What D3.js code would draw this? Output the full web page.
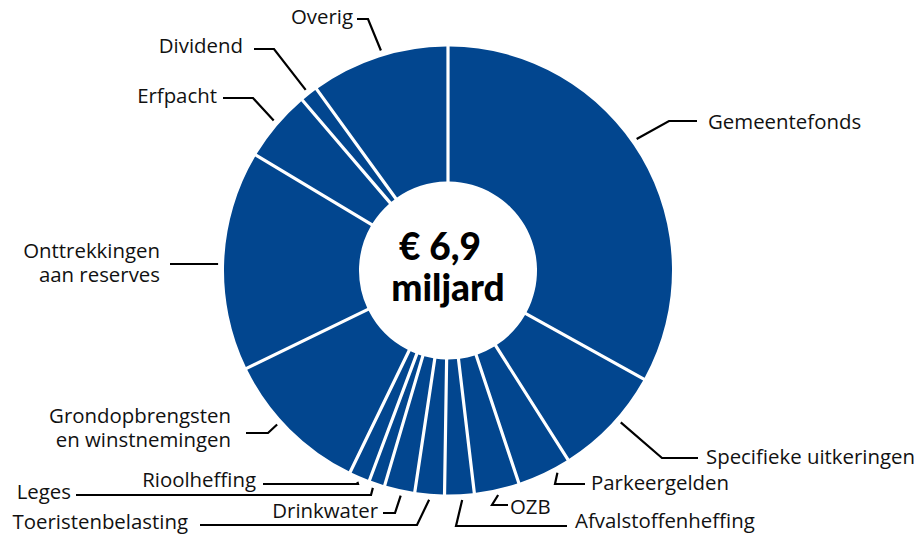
<!DOCTYPE html>
<html lang="nl">
<head>
<meta charset="UTF-8">
<title>Inkomsten</title>
<script src="https://cdn.jsdelivr.net/npm/d3@7"></script>
<style>
    body{
        margin: 0;
        background: #ffffff;
    }
    .label{
        font-family: "Open Sans", "Noto Sans", sans-serif;
        font-size: 20.4px;
        fill: #111111;
    }
    .total{
        font-family: Lato, "Noto Sans", sans-serif;
        font-weight: 900;
        font-size: 37px;
        fill: #000000;
    }
    .leader{
        fill: none;
        stroke: #000000;
        stroke-width: 2.2px;
    }
</style>
</head>
<body>
<svg id="chart" width="922" height="534"></svg>

<script>
    // income 2024, mln euro
    let categories = ["Gemeentefonds", "Specifieke uitkeringen", "Parkeergelden", "OZB",
        "Afvalstoffenheffing", "Toeristenbelasting", "Drinkwater", "Leges", "Rioolheffing",
        "Grondopbrengsten en winstnemingen", "Onttrekkingen aan reserves", "Erfpacht",
        "Dividend", "Overig"]
    let values = [2340, 550, 260, 215, 135, 135, 140, 65, 90, 740, 1110, 350, 75, 695]
    let totalText = ["€ 6,9", "miljard"]

    // where each label sits (da = shift of the leader start in degrees)
    let labelLayout = {
        "Gemeentefonds": {da: -4.4, kx: 669, ky: 121, ex: 697, tx: 708, ty: 122, anchor: "start", lines: ["Gemeentefonds"]},
        "Specifieke uitkeringen": {da: -2, kx: 662, ky: 458, ex: 698, tx: 706, ty: 457, anchor: "start", lines: ["Specifieke uitkeringen"]},
        "Parkeergelden": {da: -3, kx: 555, ky: 484, ex: 585, tx: 591, ty: 483, anchor: "start", lines: ["Parkeergelden"]},
        "OZB": {da: 0, kx: 492, ky: 505, ex: 508, tx: 510, ty: 507, anchor: "start", lines: ["OZB"]},
        "Afvalstoffenheffing": {da: -0.6, kx: 456, ky: 526, ex: 567, tx: 575, ty: 521, anchor: "start", lines: ["Afvalstoffenheffing"]},
        "Toeristenbelasting": {da: 0, kx: 417, ky: 525, ex: 200, tx: 188, ty: 522, anchor: "end", lines: ["Toeristenbelasting"]},
        "Drinkwater": {da: -0.6, kx: 395, ky: 513, ex: 383, tx: 378, ty: 511, anchor: "end", lines: ["Drinkwater"]},
        "Leges": {da: 0.6, kx: 371, ky: 495, ex: 76, tx: 71, ty: 492, anchor: "end", lines: ["Leges"]},
        "Rioolheffing": {da: 0, kx: 358, ky: 484, ex: 263, tx: 256, ty: 480, anchor: "end", lines: ["Rioolheffing"]},
        "Grondopbrengsten en winstnemingen": {da: 3, kx: 268, ky: 433, ex: 246, tx: 231, ty: 428, anchor: "end", lines: ["Grondopbrengsten", "en winstnemingen"]},
        "Onttrekkingen aan reserves": {da: -0.9, kx: null, ky: null, ex: 170, tx: 160, ty: 263, anchor: "end", lines: ["Onttrekkingen", "aan reserves"]},
        "Erfpacht": {da: 0.5, kx: 253, ky: 98, ex: 223, tx: 217, ty: 96, anchor: "end", lines: ["Erfpacht"]},
        "Dividend": {da: 0, kx: 274, ky: 49, ex: 254, tx: 243, ty: 46, anchor: "end", lines: ["Dividend"]},
        "Overig": {da: 1, kx: 368, ky: 19, ex: 357, tx: 353, ty: 17, anchor: "end", lines: ["Overig"]}
    }

    let cx = 448
    let cy = 270.5
    let outerR = 224
    let innerR = 89
    let lineH = 23.5

    let data = categories.map(function (c, i) {
        return {name: c, value: values[i]}
    })

    let svg = d3.select("#chart")
    let g = svg.append("g")
        .attr("transform", "translate(" + cx + "," + cy + ")")

    let pie = d3.pie()
        .sort(null)
        .value(function (d) { return d.value })
        .padAngle(3.2 / outerR)

    let arc = d3.arc()
        .innerRadius(innerR)
        .outerRadius(outerR)
        .padRadius(outerR)

    let arcs = pie(data)

    g.selectAll("path.slice")
        .data(arcs)
        .enter()
        .append("path")
        .attr("class", "slice")
        .attr("d", arc)
        .attr("fill", "#02468f")

    // leader lines
    arcs.forEach(function (a) {
        let lay = labelLayout[a.data.name]
        let ang = (a.startAngle + a.endAngle) / 2 + lay.da * Math.PI / 180
        let p = d3.pointRadial(ang, outerR + 6)
        let start = [p[0] + cx, p[1] + cy]
        let knee = lay.kx === null ? [start[0], start[1]] : [lay.kx, lay.ky]
        let pts = [start, knee, [lay.ex, knee[1]]]

        svg.append("path")
            .attr("class", "leader")
            .attr("d", d3.line()(pts))

        let t = svg.append("text")
            .attr("class", "label")
            .attr("text-anchor", lay.anchor)
        let n = lay.lines.length
        lay.lines.forEach(function (s, i) {
            t.append("tspan")
                .attr("x", lay.tx)
                .attr("y", lay.ty + (i - (n - 1) / 2) * lineH)
                .attr("dy", "0.35em")
                .text(s)
        })
    })

    // total in the middle
    svg.append("text")
        .attr("class", "total")
        .attr("text-anchor", "middle")
        .attr("x", cx - 8)
        .attr("y", 260)
        .text(totalText[0])
    svg.append("text")
        .attr("class", "total")
        .attr("text-anchor", "middle")
        .attr("x", cx)
        .attr("y", 301)
        .text(totalText[1])
</script>
</body>
</html>
